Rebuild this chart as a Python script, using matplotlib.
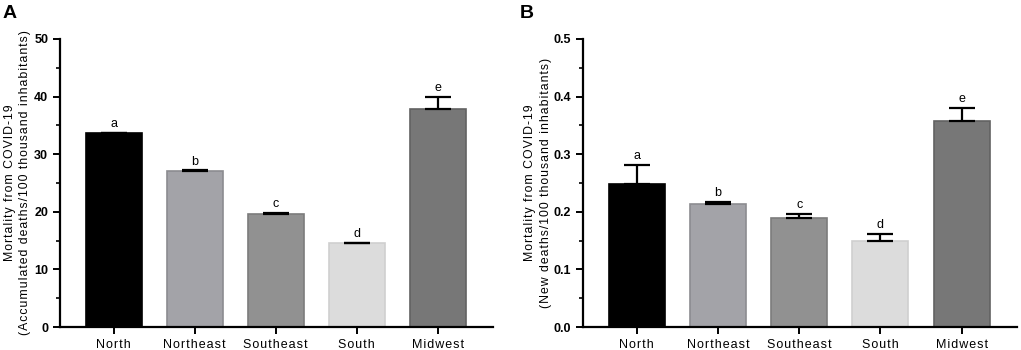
import matplotlib
matplotlib.use("Agg")
import matplotlib.pyplot as plt
from matplotlib.ticker import MultipleLocator

plt.rcParams['font.family'] = ['Liberation Sans', 'DejaVu Sans']

regions = ["North", "Northeast", "Southeast", "South", "Midwest"]
letters = ["a", "b", "c", "d", "e"]
colors = ["#000000", "#a3a3a8", "#919191", "#dcdcdc", "#777777"]
edge_colors = ["#000000", "#8c8c90", "#7c7c7c", "#cfcfcf", "#626262"]

accum_mean = [33.6, 27.0, 19.7, 14.5, 37.8]
accum_err = [0.1, 0.2, 0.15, 0.15, 2.1]

new_mean = [0.248, 0.2135, 0.190, 0.150, 0.358]
new_err = [0.033, 0.004, 0.007, 0.012, 0.022]

def spaced(s):
    return "\u200a".join(s)

fig = plt.figure(figsize=(10.21, 3.5), dpi=100)

def panel(rect, means, errs, ymax, major, minor, fmt, ylabel, tag, tagx, labx):
    ax = fig.add_axes(rect)
    x = list(range(len(regions)))
    ax.bar(x, means, width=0.69, color=colors, edgecolor=edge_colors,
           linewidth=1.2, zorder=2)
    ax.errorbar(x, means, yerr=[[0] * len(errs), errs], fmt="none",
                ecolor="black", elinewidth=1.6, capsize=9.5, capthick=1.6,
                zorder=3)
    for xi, m, e, l in zip(x, means, errs, letters):
        ax.annotate(l, (xi, m + e), xytext=(0, 2), textcoords="offset points",
                    ha="center", va="bottom", fontsize=9)
    ax.set_xlim(-0.66, 4.68)
    ax.set_ylim(0, ymax)
    ax.yaxis.set_major_locator(MultipleLocator(major))
    ax.yaxis.set_minor_locator(MultipleLocator(minor))
    ax.set_yticklabels([fmt(t) for t in ax.get_yticks()])
    ax.set_xticks(x)
    ax.set_xticklabels([spaced(r) for r in regions], fontsize=9)
    for s in ["top", "right"]:
        ax.spines[s].set_visible(False)
    for s in ["left", "bottom"]:
        ax.spines[s].set_linewidth(1.6)
    ax.tick_params(axis="both", which="major", direction="out", length=5,
                   width=1.4, labelsize=9)
    ax.tick_params(axis="y", which="minor", direction="out", length=3,
                   width=1.2)
    for lab in ax.get_yticklabels():
        lab.set_fontweight("bold")
    ax.set_ylabel(ylabel, fontsize=8.8, linespacing=1.4, va="center")
    ax.yaxis.set_label_coords(labx, 0.5)
    fig.text(tagx, 0.985, tag, fontsize=14, fontweight="bold", ha="left", va="top")
    return ax

panel([0.0588, 0.0657, 0.424, 0.823], accum_mean, accum_err, 50, 10, 5,
      lambda t: f"{t:.0f}",
      spaced("Mortality from COVID-19") + "\n" + spaced("(Accumulated deaths/100 thousand inhabitants)"),
      "A", 0.002, -0.098)
panel([0.571, 0.0657, 0.425, 0.823], new_mean, new_err, 0.5, 0.1, 0.05,
      lambda t: f"{t:.1f}",
      spaced("Mortality from COVID-19") + "\n" + spaced("(New deaths/100 thousand inhabitants)"),
      "B", 0.509, -0.104)

fig.savefig("out.png", dpi=100)
